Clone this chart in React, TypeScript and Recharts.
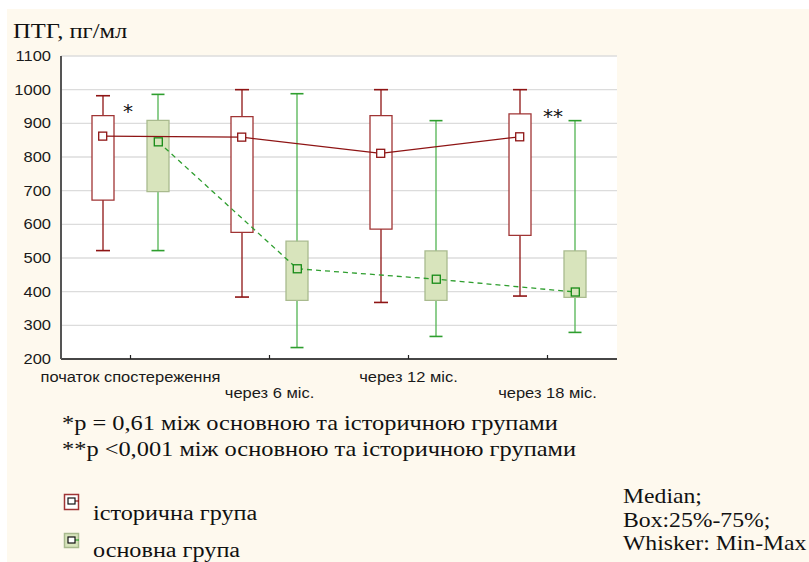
import React from 'react';
import { ComposedChart, Bar, Line, XAxis, YAxis, CartesianGrid } from 'recharts';

// ---- data ----
const categories = ['початок спостереження', 'через 6 міс.', 'через 12 міс.', 'через 18 міс.'];

// історична група (historical group)
const histMin = [522, 384, 368, 387];
const histQ1 = [672, 576, 586, 567];
const histMedian = [862, 859, 811, 860];
const histQ3 = [923, 920, 923, 928];
const histMax = [982, 1000, 1000, 1000];

// основна група (main group)
const mainMin = [522, 234, 267, 279];
const mainQ1 = [697, 374, 374, 383];
const mainMedian = [845, 468, 437, 399];
const mainQ3 = [909, 550, 521, 521];
const mainMax = [986, 988, 908, 908];

const yTicks = [200, 300, 400, 500, 600, 700, 800, 900, 1000, 1100];

const titleText = 'ПТГ, пг/мл';
const footnotes = [
  '*p = 0,61 між основною та історичною групами',
  '**p <0,001 між основною та історичною групами',
];
const legendLabels = ['історична група', 'основна група'];
const statsNote = ['Median;', 'Box:25%-75%;', 'Whisker: Min-Max'];

// ---- styles ----
const RED = '#8E1414';
const RED_BOX = '#A03434';
const GREEN = '#52B452';
const GREEN_CAP = '#2E9E2E';
const GREEN_DARK = '#168A16';
const GREEN_FILL = '#D8E4BC';
const GREEN_EDGE = '#A9BA8E';
const CREAM = '#FEF9EE';
const SANS = '"Liberation Sans", Arial, sans-serif';
const SERIF = '"Liberation Serif", "Times New Roman", serif';
const DEJAVU = '"DejaVu Sans", sans-serif';

const rows = categories.map((cat, i) => ({
  cat,
  hBox: [histQ1[i], histQ3[i]],
  hWhisk: [histMin[i], histMax[i]],
  mBox: [mainQ1[i], mainQ3[i]],
  mWhisk: [mainMin[i], mainMax[i]],
}));

const SIDE = 0.2;
const histLine = histMedian.map((v, i) => ({ pos: i + 0.5 - SIDE, v }));
const mainLine = mainMedian.map((v, i) => ({ pos: i + 0.5 + SIDE, v }));

const whiskerShape = (color: string, capColor: string, cap: number) => (props: any) => {
  const { x, y, width, height } = props;
  const cx = x + width / 2;
  return (
    <g>
      <line x1={cx} x2={cx} y1={y} y2={y + height} stroke={color} strokeWidth={1.3} />
      <line x1={cx - cap} x2={cx + cap} y1={y} y2={y} stroke={capColor} strokeWidth={1.6} />
      <line x1={cx - cap} x2={cx + cap} y1={y + height} y2={y + height} stroke={capColor} strokeWidth={1.6} />
    </g>
  );
};

const squareDot = (stroke: string, fill: string) => (props: any) => {
  const { cx, cy, index } = props;
  return <rect key={`d${index}`} x={cx - 4} y={cy - 4} width={8} height={8} fill={fill} stroke={stroke} strokeWidth={1.3} />;
};

const XTick = (props: any) => {
  const { x, y, payload, index } = props;
  const dy = index % 2 === 0 ? 23 : 39;
  return (
    <g>
      <line x1={x} x2={x} y1={y} y2={y - 4} stroke="#222" strokeWidth={1.2} />
      <text transform={`translate(${x},${y + dy}) scale(1.1,1)`} textAnchor="middle" fontFamily={SANS} fontSize={15} fill="#1a1a1a">
        {payload.value}
      </text>
    </g>
  );
};

const TopTick = (props: any) => {
  const { x, y } = props;
  return <line x1={x} x2={x} y1={y} y2={y + 4} stroke="#222" strokeWidth={1.2} />;
};

const YTick = (props: any) => {
  const { x, y, payload } = props;
  return (
    <text transform={`translate(${x - 10},${y + 5}) scale(1.18,1)`} textAnchor="end" fontFamily={SANS} fontSize={14} fill="#1a1a1a">
      {payload.value}
    </text>
  );
};

const RightTick = (props: any) => {
  const { x, y } = props;
  return <line x1={x} x2={x - 4} y1={y} y2={y} stroke="#222" strokeWidth={1.2} />;
};

const T = ({ x, y, size, family, sx, children, anchor }: any) => (
  <text transform={`translate(${x},${y}) scale(${sx},1)`} fontFamily={family} fontSize={size} fill="#111" textAnchor={anchor || 'start'}>
    {children}
  </text>
);

export default function App() {
  return (
    <div style={{ position: 'absolute', left: 0, top: 0, width: 809, height: 562, background: '#fff', overflow: 'hidden' }}>
      <div style={{ position: 'absolute', left: 7, top: 9, width: 802, height: 553, background: CREAM }} />
      <div style={{ position: 'absolute', left: 0, top: 0 }}>
        <ComposedChart
          width={809}
          height={562}
          data={rows}
          margin={{ top: 56, right: 192, left: 11, bottom: 163 }}
          barGap={33}
          barSize={22}
        >
          <CartesianGrid horizontal vertical={false} stroke="#dcdcdc" strokeWidth={1.3} fill="#ffffff" />
          <XAxis dataKey="cat" xAxisId={0} height={40} tickSize={0} tickMargin={0} tickLine={false} axisLine={{ stroke: '#111', strokeWidth: 1.6 }} tick={<XTick />} interval={0} />
          <XAxis dataKey="cat" xAxisId="w" hide />
          <XAxis dataKey="cat" xAxisId="t" orientation="top" height={0} tickSize={0} tickMargin={0} tickLine={false} axisLine={{ stroke: '#777', strokeWidth: 1.4 }} tick={<TopTick />} interval={0} />
          <XAxis dataKey="pos" xAxisId="n" type="number" domain={[0, 4]} hide allowDataOverflow />
          <YAxis yAxisId={0} width={50} domain={[200, 1100]} ticks={yTicks} interval={0} tickSize={0} tickMargin={0} tickLine={false} axisLine={{ stroke: '#555', strokeWidth: 2 }} tick={<YTick />} allowDataOverflow />
          <YAxis yAxisId="r" orientation="right" width={0} domain={[200, 1100]} ticks={yTicks} interval={0} tickSize={0} tickMargin={0} tickLine={false} axisLine={{ stroke: '#111', strokeWidth: 2 }} tick={<RightTick />} allowDataOverflow />

          <Bar xAxisId="w" dataKey="hWhisk" shape={whiskerShape(RED, RED, 7)} isAnimationActive={false} />
          <Bar xAxisId="w" dataKey="mWhisk" shape={whiskerShape(GREEN, GREEN_CAP, 6.5)} isAnimationActive={false} />
          <Bar xAxisId={0} dataKey="hBox" fill="#ffffff" stroke={RED_BOX} strokeWidth={1.3} isAnimationActive={false} />
          <Bar xAxisId={0} dataKey="mBox" fill={GREEN_FILL} stroke={GREEN_EDGE} strokeWidth={1.3} isAnimationActive={false} />

          <Line xAxisId="n" data={histLine} dataKey="v" type="linear" stroke={RED} strokeWidth={1.3} dot={squareDot(RED, '#ffffff')} activeDot={false} isAnimationActive={false} />
          <Line xAxisId="n" data={mainLine} dataKey="v" type="linear" stroke={GREEN_CAP} strokeWidth={1.3} strokeDasharray="5 4" dot={squareDot(GREEN_DARK, GREEN_FILL)} activeDot={false} isAnimationActive={false} />
        </ComposedChart>
      </div>
      <svg width={809} height={562} style={{ position: 'absolute', left: 0, top: 0, pointerEvents: 'none' }}>
        <T x={13} y={38} size={21} family={SERIF} sx={1.17}>{titleText}</T>
        <T x={128} y={118} size={20} family={DEJAVU} sx={1} anchor="middle">*</T>
        <T x={553} y={123} size={20} family={DEJAVU} sx={1} anchor="middle">**</T>
        <T x={62} y={430} size={20} family={SERIF} sx={1.22}>{footnotes[0]}</T>
        <T x={62} y={456} size={20} family={SERIF} sx={1.22}>{footnotes[1]}</T>

        <rect x={64.5} y={494.5} width={14} height={15} fill="#fff" stroke={RED_BOX} strokeWidth={1.5} />
        <line x1={75} x2={79} y1={501} y2={501} stroke={RED} strokeWidth={1.2} />
        <rect x={68} y={498} width={7} height={6} fill="#fff" stroke="#111" strokeWidth={1.2} />
        <T x={93} y={520} size={20} family={SERIF} sx={1.21}>{legendLabels[0]}</T>

        <rect x={64.5} y={533.5} width={14} height={14} fill={GREEN_FILL} stroke={GREEN_EDGE} strokeWidth={1.5} />
        <line x1={75} x2={79} y1={540} y2={540} stroke={GREEN_CAP} strokeWidth={1.2} />
        <rect x={68} y={537} width={7} height={6} fill="#fff" stroke="#111" strokeWidth={1.2} />
        <T x={93} y={557} size={20} family={SERIF} sx={1.21}>{legendLabels[1]}</T>

        <T x={623} y={503} size={20} family={SERIF} sx={1.185}>{statsNote[0]}</T>
        <T x={623} y={527} size={20} family={SERIF} sx={1.185}>{statsNote[1]}</T>
        <T x={623} y={550} size={20} family={SERIF} sx={1.185}>{statsNote[2]}</T>
      </svg>
    </div>
  );
}
